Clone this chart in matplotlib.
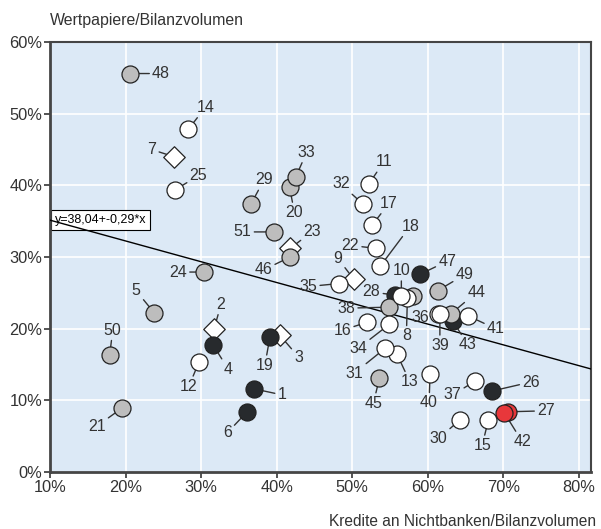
#!/usr/bin/env python3

import matplotlib

matplotlib.use('Agg')
import matplotlib.pyplot as plt
from matplotlib.ticker import FuncFormatter


OUT_FILE = 'out.png'

# case numbers, x = Kredite an Nichtbanken/Bilanzvolumen (%), y = Wertpapiere/Bilanzvolumen (%)
LABELS = [
    '1', '2', '3', '4', '5', '6', '7', '8', '9', '10',
    '11', '12', '13', '14', '15', '16', '17', '18', '19', '20',
    '21', '22', '23', '24', '25', '26', '27', '28', '29', '30',
    '31', '32', '33', '34', '35', '36', '37', '38', '39', '40',
    '41', '42', '43', '44', '45', '46', '47', '48', '49', '50',
    '51', '',
]
X_VALUES = [
    37.0, 31.7, 40.4, 31.6, 23.8, 36.1, 26.4, 57.3, 50.2, 56.5,
    52.2, 29.7, 55.9, 28.3, 68.0, 52.0, 52.6, 53.7, 39.1, 41.7,
    19.5, 53.2, 41.8, 30.4, 26.6, 68.5, 70.6, 55.6, 36.6, 64.3,
    54.4, 51.4, 42.5, 54.9, 48.3, 61.3, 66.3, 54.9, 61.6, 60.3,
    65.3, 70.1, 63.3, 63.1, 53.6, 41.8, 59.0, 20.6, 61.3, 17.9,
    39.6, 58.0,
]
Y_VALUES = [
    11.6, 19.9, 19.1, 17.7, 22.2, 8.4, 44.0, 24.3, 26.9, 24.6,
    40.2, 15.3, 16.5, 47.8, 7.2, 20.9, 34.4, 28.7, 18.8, 39.7,
    8.9, 31.2, 31.2, 27.9, 39.4, 11.3, 8.4, 24.7, 37.4, 7.3,
    17.3, 37.4, 41.1, 20.6, 26.3, 22.1, 12.7, 23.0, 22.0, 13.7,
    21.8, 8.3, 21.1, 22.1, 13.1, 30.0, 27.6, 55.6, 25.3, 16.3,
    33.5, 24.6,
]
GROUPS = [
    'black', 'diamond', 'diamond', 'black', 'grey', 'black', 'diamond', 'white', 'diamond', 'white',
    'white', 'white', 'white', 'white', 'white', 'white', 'white', 'white', 'black', 'grey',
    'grey', 'white', 'diamond', 'grey', 'white', 'black', 'red', 'black', 'grey', 'white',
    'white', 'white', 'grey', 'white', 'white', 'white', 'white', 'grey', 'white', 'white',
    'white', 'red', 'black', 'grey', 'grey', 'grey', 'black', 'grey', 'grey', 'grey',
    'grey', 'grey',
]

INTERCEPT = 38.04
SLOPE = -0.29
X_TICKS = [10, 20, 30, 40, 50, 60, 70, 80]
Y_TICKS = [0, 10, 20, 30, 40, 50, 60]

# label placement (pixel offsets from the point)
LABEL_OFFSETS = {
    '1': (28, -6), '2': (7, 25), '3': (19, -22), '4': (15, -24), '5': (-18, 22),
    '6': (-20, -21), '7': (-22, 7), '8': (-1, -38), '9': (-16, 21), '10': (0, 25),
    '11': (15, 22), '12': (-10, -24), '13': (13, -28), '14': (17, 22), '15': (-6, -25),
    '16': (-25, -8), '17': (17, 22), '18': (30, 40), '19': (-5, -28), '20': (5, -25),
    '21': (-25, -18), '22': (-26, 3), '23': (22, 17), '24': (-26, 0), '25': (23, 14),
    '26': (39, 9), '27': (38, 1), '28': (-23, 3), '29': (13, 24), '30': (-22, -19),
    '31': (-31, -25), '32': (-22, 20), '33': (11, 25), '34': (-31, -24), '35': (-31, -3),
    '36': (-17, -4), '37': (-23, -14), '38': (-43, -1), '39': (0, -31), '40': (-1, -29),
    '41': (28, -13), '42': (18, -29), '43': (15, -24), '44': (25, 21), '45': (-6, -25),
    '46': (-27, -13), '47': (27, 13), '48': (31, 0), '49': (27, 16), '50': (3, 25),
    '51': (-31, 0),
}

STYLES = {
    'diamond': dict(marker='D', s=120, color='#FFFFFF'),
    'black': dict(marker='o', s=150, color='#272A2D'),
    'grey': dict(marker='o', s=150, color='#BDBDBD'),
    'red': dict(marker='o', s=150, color='#E8373B'),
    'white': dict(marker='o', s=150, color='#FFFFFF'),
}
DRAW_ORDER = ['diamond', 'black', 'grey', 'red', 'white']

BACKGROUND = '#DCE9F6'
AXIS_COLOR = '#454545'
TEXT_COLOR = '#333333'


def percent(value, _pos):
    return f'{value:.0f}%'


def main():
    plt.rcParams['font.family'] = ['Liberation Sans', 'DejaVu Sans']

    fig = plt.figure(figsize=(6.01, 5.29), dpi=100)
    ax = fig.add_axes([50 / 601, 1 - 472 / 529, 541 / 601, 430 / 529])
    ax.set_facecolor(BACKGROUND)

    ax.set_xlim(10, 81.6)
    ax.set_ylim(0, 60)
    ax.set_xticks(X_TICKS)
    ax.set_yticks(Y_TICKS)
    ax.xaxis.set_major_formatter(FuncFormatter(percent))
    ax.yaxis.set_major_formatter(FuncFormatter(percent))
    ax.grid(True, color='white', linewidth=1.2)
    ax.set_axisbelow(True)
    ax.tick_params(length=4.5, width=1.3, color=AXIS_COLOR, labelsize=11.8,
                   labelcolor=TEXT_COLOR, pad=1)
    for side in ('left', 'bottom'):
        ax.spines[side].set_linewidth(2.0)
        ax.spines[side].set_color(AXIS_COLOR)
    for side in ('top', 'right'):
        ax.spines[side].set_linewidth(1.5)
        ax.spines[side].set_color(AXIS_COLOR)

    # regression line
    x_line = [10, 81.6]
    y_line = [INTERCEPT + SLOPE * x for x in x_line]
    ax.plot(x_line, y_line, color='black', linewidth=1.0, zorder=3)
    ax.text(10.65, INTERCEPT + SLOPE * 10, 'y=38,04+-0,29*x', fontsize=9,
            va='center', ha='left', color='black', zorder=2,
            bbox=dict(boxstyle='square,pad=0.3', facecolor='white',
                      edgecolor='black', linewidth=0.8))

    for group in DRAW_ORDER:
        style = STYLES[group]
        for label, x, y, g in zip(LABELS, X_VALUES, Y_VALUES, GROUPS):
            if g != group:
                continue
            ax.scatter([x], [y], marker=style['marker'], s=style['s'],
                       facecolor=style['color'], edgecolor='#222222',
                       linewidth=0.9, zorder=5)

    for label, x, y in zip(LABELS, X_VALUES, Y_VALUES):
        if not label:
            continue
        dx, dy = LABEL_OFFSETS[label]
        ax.annotate(label, (x, y), xytext=(dx, dy), textcoords='offset pixels',
                    ha='center', va='center', fontsize=11.5, color=TEXT_COLOR,
                    zorder=4,
                    arrowprops=dict(arrowstyle='-', color=TEXT_COLOR, lw=1.0,
                                    shrinkA=0, shrinkB=5.5))

    fig.text(50 / 601, 1 - 20 / 529, 'Wertpapiere/Bilanzvolumen', fontsize=11.4,
             ha='left', va='center', color=TEXT_COLOR)
    fig.text(596 / 601, 1 - 522 / 529, 'Kredite an Nichtbanken/Bilanzvolumen',
             fontsize=11.2, ha='right', va='center', color=TEXT_COLOR)

    fig.savefig(OUT_FILE, dpi=100)
    plt.close(fig)
    return 0


if __name__ == '__main__':
    raise SystemExit(main())
